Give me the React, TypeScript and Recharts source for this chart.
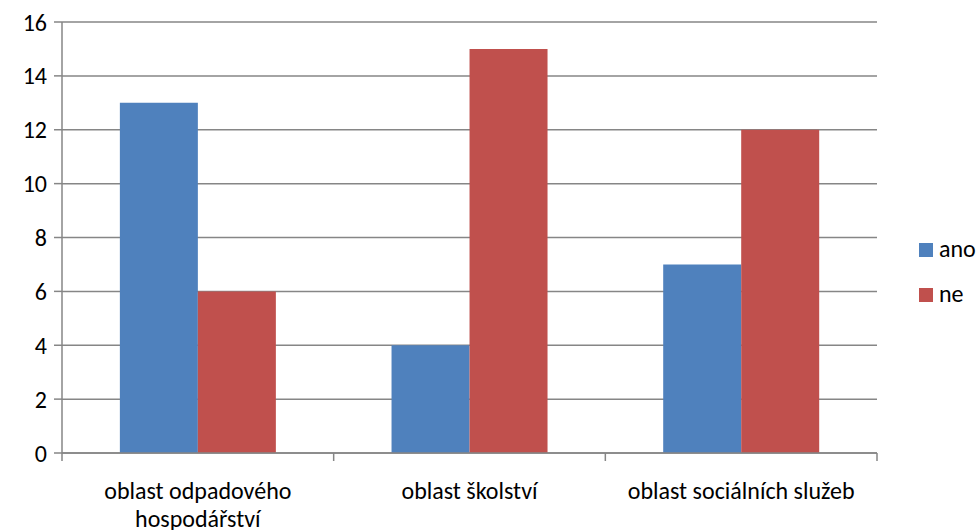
import React from "react";
import { BarChart, Bar, XAxis, YAxis, CartesianGrid } from "recharts";

const categories = ["oblast odpadového hospodářství", "oblast školství", "oblast sociálních služeb"];
const categoryLines = [["oblast odpadového", "hospodářství"], ["oblast školství"], ["oblast sociálních služeb"]];
const anoValues = [13, 4, 7];
const neValues = [6, 15, 12];
const yTicks = [0, 2, 4, 6, 8, 10, 12, 14, 16];
const seriesNames = ["ano", "ne"];
const seriesColors = ["#4F81BD", "#C0504D"];

const data = categories.map((c, i) => ({ name: c, idx: i, ano: anoValues[i], ne: neValues[i] }));

const FONT = "Carlito, Lato, 'Liberation Sans', Arial, sans-serif";
const FS = 24;
const AXIS = "#868686";

const XTick = (props: any) => {
  const { x, y, payload, index } = props;
  const off = payload.offset || 0;
  const lines = categoryLines[index] || [payload.value];
  return (
    <g>
      <line x1={x - off} y1={y - 8} x2={x - off} y2={y} stroke={AXIS} strokeWidth={1.5} />
      {index === categories.length - 1 && (
        <line x1={x + off} y1={y - 8} x2={x + off} y2={y} stroke={AXIS} strokeWidth={1.5} />
      )}
      <text x={x} y={y + 38} textAnchor="middle" fill="#000" fontSize={FS} fontFamily={FONT}>
        {lines.map((l: string, i: number) => (
          <tspan key={i} x={x} dy={i === 0 ? 0 : 28}>{l}</tspan>
        ))}
      </text>
    </g>
  );
};

export default function App() {
  return (
    <div style={{ position: "absolute", left: 0, top: 0, width: 977, height: 530, background: "#fff" }}>
      <BarChart
        width={977}
        height={530}
        data={data}
        margin={{ top: 22, right: 100, left: 0, bottom: 0 }}
        barCategoryGap="21.3%"
        barGap={0}
      >
        <CartesianGrid vertical={false} stroke={AXIS} strokeWidth={1.5} />
        <XAxis
          dataKey="name"
          height={77}
          axisLine={{ stroke: AXIS, strokeWidth: 1.5 }}
          tickLine={false}
          tick={<XTick />}
          interval={0}
        />
        <YAxis
          width={62}
          domain={[0, 16]}
          ticks={yTicks}
          interval={0}
          axisLine={{ stroke: AXIS, strokeWidth: 1.5 }}
          tickLine={{ stroke: AXIS, strokeWidth: 1.5 }}
          tickSize={8}
          tickMargin={7}
          tick={{ fill: "#000", fontSize: FS, fontFamily: FONT }}
        />
        <Bar dataKey="ano" fill={seriesColors[0]} isAnimationActive={false} />
        <Bar dataKey="ne" fill={seriesColors[1]} isAnimationActive={false} />
        <g>
          {seriesNames.map((n, i) => (
            <g key={n}>
              <rect x={919} y={243 + i * 45} width={14} height={14} fill={seriesColors[i]} />
              <text x={939} y={257 + i * 45} fontSize={FS} fontFamily={FONT} fill="#000">{n}</text>
            </g>
          ))}
        </g>
      </BarChart>
    </div>
  );
}
